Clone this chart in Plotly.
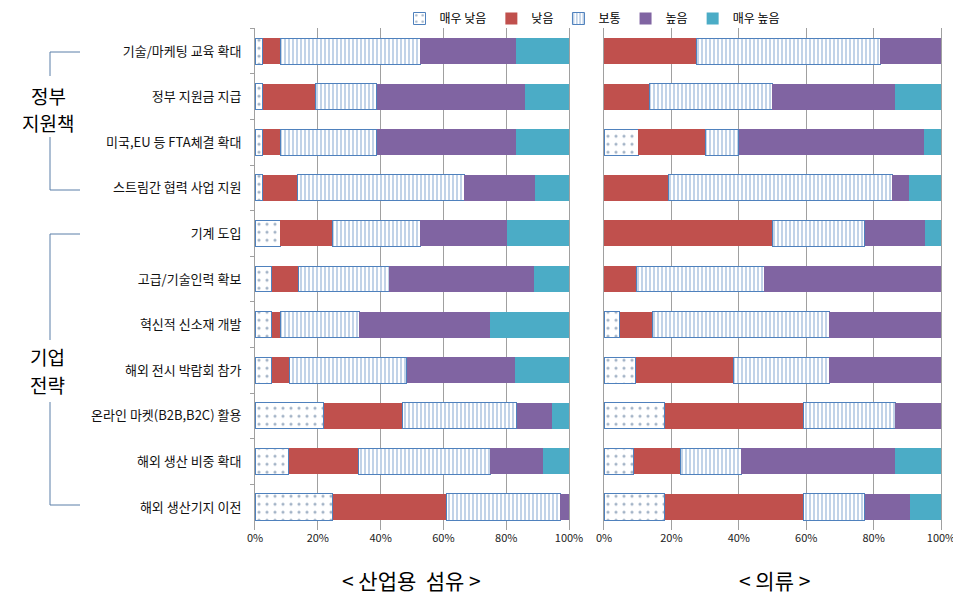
import plotly.graph_objects as go

categories = ["기술/마케팅 교육 확대", "정부 지원금 지급", "미국,EU 등 FTA체결 확대", "스트림간 협력 사업 지원",
              "기계 도입", "고급/기술인력 확보", "혁신적 신소재 개발", "해외 전시 박람회 참가",
              "온라인 마켓(B2B,B2C) 활용", "해외 생산 비중 확대", "해외 생산기지 이전"]
levels = ["매우 낮음", "낮음", "보통", "높음", "매우 높음"]

# 산업용 섬유 (%)
ind_very_low = [2.4, 2.4, 2.4, 2.4, 8.1, 5.3, 5.3, 5.3, 21.9, 10.8, 24.7]
ind_low = [5.7, 16.9, 5.7, 11.2, 16.5, 8.6, 2.8, 5.6, 25.1, 22.3, 36.4]
ind_mid = [44.6, 19.4, 30.6, 53.0, 28.1, 28.8, 25.1, 37.5, 36.4, 41.8, 36.1]
ind_high = [30.5, 47.4, 44.5, 22.6, 27.6, 46.1, 41.6, 34.5, 11.2, 16.8, 2.8]
ind_very_high = [16.8, 13.9, 16.8, 10.8, 19.7, 11.2, 25.2, 17.1, 5.4, 8.3, 0.0]

# 의류 (%)
app_very_low = [0.0, 0.0, 10.1, 0.0, 0.0, 0.0, 4.6, 9.4, 18.0, 8.8, 18.0]
app_low = [27.4, 13.6, 19.9, 19.1, 50.1, 9.5, 9.8, 28.9, 41.3, 14.0, 41.3]
app_mid = [54.5, 36.3, 10.0, 66.4, 27.3, 38.1, 52.4, 28.5, 27.1, 17.9, 18.0]
app_high = [18.1, 36.5, 55.0, 4.9, 17.9, 52.4, 33.2, 33.2, 13.6, 45.7, 13.4]
app_very_high = [0.0, 13.6, 5.0, 9.6, 4.7, 0.0, 0.0, 0.0, 0.0, 13.6, 9.3]

tick_vals = [0, 20, 40, 60, 80, 100]
tick_text = ["0%", "20%", "40%", "60%", "80%", "100%"]

BORDER = "#4F81BD"
styles = [
    dict(color="white", line=dict(color=BORDER, width=1),
         pattern=dict(shape=".", fgcolor="#4A6A90", bgcolor="white", size=8, solidity=0.12, fillmode="overlay")),
    dict(color="#C0504D", line=dict(color="#C0504D", width=0)),
    dict(color="white", line=dict(color=BORDER, width=1),
         pattern=dict(shape="|", fgcolor=BORDER, bgcolor="white", size=4, solidity=0.35, fillmode="overlay")),
    dict(color="#8064A2", line=dict(color="#8064A2", width=0)),
    dict(color="#4BACC6", line=dict(color="#4BACC6", width=0)),
]

ind = [ind_very_low, ind_low, ind_mid, ind_high, ind_very_high]
app = [app_very_low, app_low, app_mid, app_high, app_very_high]

fig = go.Figure()
for i, name in enumerate(levels):
    fig.add_trace(go.Bar(y=categories, x=ind[i], orientation="h", name=name,
                         marker=styles[i], legendgroup=name, showlegend=True,
                         xaxis="x", yaxis="y", hoverinfo="x+y+name"))
    fig.add_trace(go.Bar(y=categories, x=app[i], orientation="h", name=name,
                         marker=styles[i], legendgroup=name, showlegend=False,
                         xaxis="x2", yaxis="y2", hoverinfo="x+y+name"))

FONT = "Noto Sans CJK KR"
W, H = 961, 603
OFF = 8  # page body margin in the browser


def px(x):
    return (x - OFF) / W


def py(y):
    return (H - (y - OFF)) / H


xa = dict(range=[0, 100], tickvals=tick_vals, ticktext=tick_text, showgrid=True,
          gridcolor="#A0A0A0", gridwidth=1, zeroline=False, showline=False, automargin=False,
          tickfont=dict(size=11, color="#222", family=FONT), ticks="", fixedrange=True)
ya = dict(categoryorder="array", categoryarray=categories, autorange="reversed", automargin=False,
          showline=True, linecolor="#A0A0A0", mirror=True, showgrid=False, fixedrange=True)

fig.update_layout(
    template="none",
    width=W, height=H,
    margin=dict(l=0, r=0, t=0, b=0, autoexpand=False),
    paper_bgcolor="white", plot_bgcolor="white",
    barmode="stack", bargap=0.43,
    font=dict(family=FONT, color="#000"),
    xaxis=dict(domain=[px(255), px(569)], anchor="y", **xa),
    xaxis2=dict(domain=[px(604), px(941)], anchor="y2", **xa),
    yaxis=dict(domain=[py(529.8), py(28.2)], anchor="x", showticklabels=True,
               tickfont=dict(size=13, color="#111", family=FONT),
               ticks="outside", tickson="boundaries", ticklen=4, tickcolor="#A0A0A0",
               ticklabelstandoff=10, **ya),
    yaxis2=dict(domain=[py(529.8), py(28.2)], anchor="x2", showticklabels=False, ticks="", **ya),
    legend=dict(orientation="h", x=px(592), y=py(4), xanchor="center", yanchor="top",
                font=dict(size=12, family=FONT, color="#000"), itemwidth=30,
                traceorder="normal", tracegroupgap=0, bgcolor="rgba(0,0,0,0)"),
    showlegend=True,
)

# panel titles
fig.add_annotation(text="< 산업용  섬유 >", x=px(411), y=py(580), xref="paper", yref="paper",
                   xanchor="center", yanchor="middle", showarrow=False, font=dict(size=21, family=FONT))
fig.add_annotation(text="< 의류 >", x=px(774), y=py(580), xref="paper", yref="paper",
                   xanchor="center", yanchor="middle", showarrow=False, font=dict(size=21, family=FONT))

# group labels, one annotation per line
for txt, cx, cy in [("정부", 48, 95), ("지원책", 48, 122), ("기업", 47, 357), ("전략", 47, 384)]:
    fig.add_annotation(text=txt, x=px(cx), y=py(cy), xref="paper", yref="paper",
                       xanchor="center", yanchor="middle", showarrow=False, font=dict(size=19, family=FONT),
                       borderpad=0)

BR = "#5A7FA8"
segs = [
    ((50, 52), (50, 76)), ((50, 52), (80, 52)),
    ((50, 137), (50, 190)), ((50, 190), (80, 190)),
    ((50, 234), (50, 340)), ((50, 234), (80, 234)),
    ((50, 402), (50, 505)), ((50, 505), (80, 505)),
]
for (xa_, ya_), (xb, yb) in segs:
    fig.add_shape(type="line", xref="paper", yref="paper", x0=px(xa_), y0=py(ya_), x1=px(xb), y1=py(yb),
                  line=dict(color=BR, width=1))

fig.write_html("out.html")
